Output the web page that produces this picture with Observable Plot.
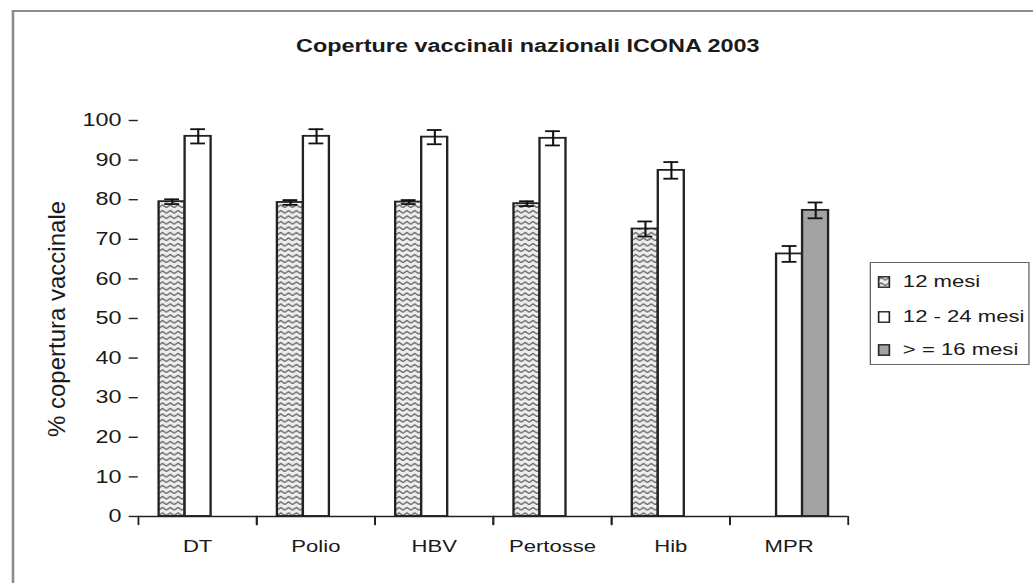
<!DOCTYPE html>
<html><head><meta charset="utf-8">
<script src="https://cdn.jsdelivr.net/npm/d3@7"></script>
<script src="https://cdn.jsdelivr.net/npm/@observablehq/plot@0.6"></script>
<style>
html,body{margin:0;padding:0;background:#fff;}
body{width:1033px;height:583px;overflow:hidden;position:relative;font-family:"Liberation Sans",Arial,sans-serif;color:#1a1a1a;}
#wrap{position:absolute;left:0;top:0;width:794.6px;height:583px;transform:scaleX(1.3);transform-origin:0 0;}
#border{position:absolute;left:8.5px;top:10px;width:900px;height:700px;border-top:2.5px solid #8c8c8c;border-left:2px solid #8c8c8c;}
#chart{position:absolute;left:0;top:0;}
#title{position:absolute;left:0;width:812px;top:36px;text-align:center;font-weight:bold;font-size:18px;line-height:20px;white-space:nowrap;}
#ylab{position:absolute;left:57px;top:319px;transform:translate(-50%,-50%) rotate(-90deg);font-size:24px;white-space:nowrap;line-height:26px;}
#legend{position:absolute;left:669px;top:262px;width:123px;height:103px;border:1.5px solid #666;box-sizing:border-box;background:#fff;}
.item{position:absolute;left:4.5px;height:20px;display:flex;align-items:center;font-size:17px;white-space:nowrap;}
.item svg{margin-right:10px;}
</style>
</head><body>
<div id="wrap">
  <div id="border"></div>
  <div id="chart"></div>
  <div id="title"></div>
  <div id="legend"></div>
</div>
<div id="ylab"></div>
<script>
// ---- data ----
const categories = ["DT", "Polio", "HBV", "Pertosse", "Hib", "MPR"];
const series = ["12 mesi", "12 - 24 mesi", "> = 16 mesi"];
const mesi12 = [79.5, 79.3, 79.4, 79.0, 72.6, null];
const mesi12err = [0.6, 0.6, 0.5, 0.6, 1.9, null];
const mesi1224 = [96.0, 96.0, 95.8, 95.5, 87.4, 66.3];
const mesi1224err = [1.8, 1.8, 1.8, 1.8, 2.1, 2.0];
const mesi16 = [0, 0, 0, 0, 0, 77.3];
const mesi16err = [null, null, null, null, null, 2.0];
const yTicks = [0, 10, 20, 30, 40, 50, 60, 70, 80, 90, 100];
const titleText = "Coperture vaccinali nazionali ICONA 2003";
const yLabel = "% copertura vaccinale";

// ---- table ----
const values = [mesi12, mesi1224, mesi16];
const errors = [mesi12err, mesi1224err, mesi16err];
const rows = [];
categories.forEach((cat, i) => {
  series.forEach((s, j) => {
    rows.push({cat, s, v: values[j][i], e: errors[j][i]});
  });
});
const bars = rows.filter(d => d.v != null);
const errs = rows.filter(d => d.v != null && d.e != null);

const W = 1033 / 1.3;
const fills = ["url(#zig)", "#ffffff", "#a3a3a3"];
const tickShape = {draw(context, l) { context.moveTo(0, 0); context.lineTo(0, -l); }};

const chart = Plot.plot({
  width: W,
  height: 583,
  marginLeft: 104,
  marginRight: W - 653,
  marginTop: 120,
  marginBottom: 67,
  style: {fontFamily: "'Liberation Sans', Arial, sans-serif", fontSize: "18px", color: "#1a1a1a", background: "transparent", overflow: "visible"},
  fx: {domain: categories, paddingInner: 0, paddingOuter: 0, label: null},
  x: {domain: series, paddingInner: 0, paddingOuter: 0.68, axis: null},
  y: {domain: [0, 100], label: null},
  color: {domain: series, range: fills},
  marks: [
    Plot.axisY({ticks: yTicks, tickSize: 7, tickPadding: 6, line: true, label: null, stroke: "#222", strokeWidth: 1.4, fontSize: 18}),
    Plot.axisFx({anchor: "bottom", tickSize: 0, tickPadding: 23, label: null, fontSize: 17}),
    Plot.barY(bars, {fx: "cat", x: "s", y: "v", fill: "s", stroke: "#222", strokeWidth: 1.8}),
    Plot.ruleY([0], {stroke: "#222", strokeWidth: 1.5}),
    Plot.ruleX(errs, {fx: "cat", x: "s", y1: d => d.v - d.e, y2: d => d.v + d.e, stroke: "#111", strokeWidth: 1.6}),
    Plot.tickY(errs, {fx: "cat", x: "s", y: d => d.v + d.e, insetLeft: 4.3, insetRight: 4.3, stroke: "#111", strokeWidth: 1.8}),
    Plot.tickY(errs, {fx: "cat", x: "s", y: d => d.v - d.e, insetLeft: 4.3, insetRight: 4.3, stroke: "#111", strokeWidth: 1.8}),
    Plot.vector([0], {frameAnchor: "bottom-left", length: 8, rotate: 180, anchor: "start", shape: tickShape, stroke: "#222", strokeWidth: 1.4}),
    Plot.vector([0], {frameAnchor: "bottom-right", length: 8, rotate: 180, anchor: "start", shape: tickShape, stroke: "#222", strokeWidth: 1.4})
  ]
});

const patternMarkup = '<pattern id="zig" width="6" height="5.5" patternUnits="userSpaceOnUse">' +
  '<rect width="6" height="5.5" fill="#eeeeee"/>' +
  '<path d="M0,4.3L3,1.4L6,4.3" fill="none" stroke="#555" stroke-width="1.1"/></pattern>';
const defs = document.createElementNS("http://www.w3.org/2000/svg", "defs");
defs.innerHTML = patternMarkup;
chart.insertBefore(defs, chart.firstChild);
document.getElementById("chart").appendChild(chart);

document.getElementById("title").textContent = titleText;
document.getElementById("ylab").textContent = yLabel;

// legend
const legend = document.getElementById("legend");
const itemTops = [9, 44, 77];
series.forEach((s, j) => {
  const item = document.createElement("div");
  item.className = "item";
  item.style.top = itemTops[j] + "px";
  item.innerHTML = '<svg width="10" height="12"><rect x="0.8" y="0.8" width="8.4" height="10.4" fill="' + fills[j] + '" stroke="#222" stroke-width="1.4"/></svg>';
  const t = document.createElement("span");
  t.textContent = s;
  item.appendChild(t);
  legend.appendChild(item);
});
</script>
</body></html>
